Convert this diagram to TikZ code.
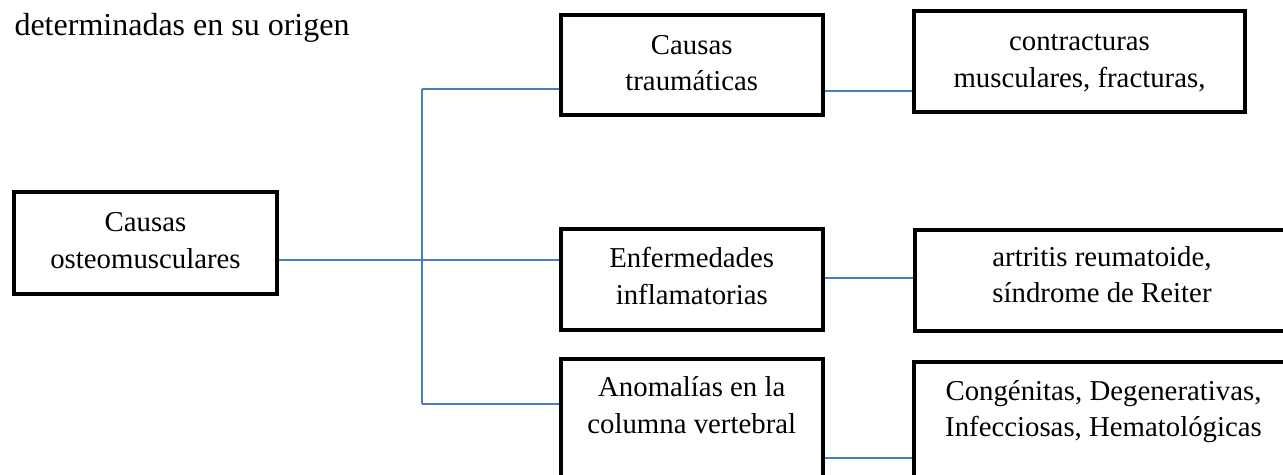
\documentclass[tikz,border=0pt]{standalone}
\usepackage{fontspec}
\setmainfont{Liberation Serif}
\usetikzlibrary{calc}
\definecolor{linkblue}{RGB}{74,126,193}

\begin{document}
\begin{tikzpicture}[x=0.375pt, y=-0.375pt,
		box/.style={draw, line width=1.5pt, inner sep=0pt, anchor=north, align=center, font=\fontsize{10.8}{13.7}\selectfont},
		link/.style={draw=linkblue, line width=0.75pt}]
		%%%%% START %%%%%
		
		\useasboundingbox (0, 0) rectangle (1283, 474);
		\clip (0, 0) rectangle (1283, 474);
		
		\node[anchor=base west, inner sep=0pt, font=\fontsize{12}{14}\selectfont] (title) at (14, 35) {determinadas en su origen};
		
		\node[box, minimum width=98.6pt, text height=28.5pt, text depth=9.7pt] (osteo) at (145.5, 190) {Causas\\osteomusculares};
		
		\node[box, minimum width=98.4pt, text height=28.4pt, text depth=9.1pt] (traum) at (691.75, 13) {Causas\\traumáticas};
		\node[box, minimum width=98.4pt, text height=28.2pt, text depth=9.5pt] (enf) at (691.75, 227) {Enfermedades\\inflamatorias};
		\node[box, minimum width=98.4pt, text height=27.8pt, text depth=47.3pt] (anom) at (691.75, 357) {Anomalías en la\\columna vertebral};
		
		\node[box, minimum width=124.1pt, text height=28.7pt, text depth=9.3pt] (contr) at (1079.5, 8.5) {contracturas\\musculares, fracturas,};
		\node[box, minimum width=140.25pt, text height=27.3pt, text depth=10.6pt] (art) at (1102, 228) {artritis reumatoide,\\síndrome de Reiter};
		\node[box, minimum width=142.1pt, text height=27.95pt, text depth=47.3pt] (cong) at (1103.5, 360) {Congénitas, Degenerativas,\\Infecciosas, Hematológicas};
		
		\coordinate (jtop) at (422, 89);
		\coordinate (jmid) at (422, 260);
		\coordinate (jbot) at (422, 404);
		
		\draw[link] (osteo.east |- jmid) -- (jmid -| enf.west);
		\draw[link] (jtop) -- (jbot);
		\draw[link] (jtop) -- (jtop -| traum.west);
		\draw[link] (jbot) -- (jbot -| anom.west);
		
		\draw[link] ($(traum.north east)+(0, 77.5)$) -- ($(contr.north west)+(0, 82)$);
		\draw[link] ($(enf.north east)+(0, 51)$) -- ($(art.north west)+(0, 50)$);
		\draw[link] ($(anom.north east)+(0, 100.5)$) -- ($(cong.north west)+(0, 97.5)$);
		
		%%%%% END %%%%%
	\end{tikzpicture}
\end{document}
